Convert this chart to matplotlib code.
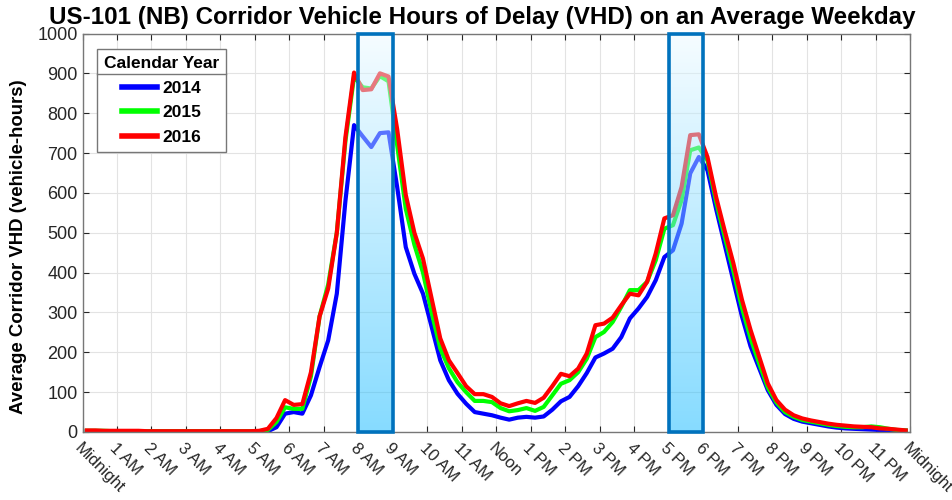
import numpy as np
import matplotlib
matplotlib.use("Agg")
import matplotlib.pyplot as plt
from matplotlib.patches import Rectangle
from matplotlib.lines import Line2D

# 15-minute bins, values plotted at bin midpoints (hours after midnight)
hours = np.arange(96) * 0.25 + 0.125

vhd_2014 = [2, 2, 2, 2, 1, 1, 1, 1, 1, 1, 1, 1, 1, 1, 1, 1, 1, 1, 1, 1,
            1, 2, 12, 46, 50, 46, 92, 163, 230, 347, 580, 770,
            742, 715, 750, 752, 615, 464, 397, 347, 264, 180, 130, 96,
            71, 50, 46, 42, 36, 31, 36, 38, 36, 39, 56, 77,
            88, 115, 148, 187, 197, 209, 238, 285, 310, 339, 381, 439,
            456, 523, 649, 690, 657, 560, 470, 380, 290, 215, 160, 105,
            68, 45, 33, 26, 22, 18, 14, 11, 9, 8, 7, 6, 5, 4, 3, 3]
vhd_2015 = [3, 3, 3, 2, 2, 2, 2, 2, 2, 2, 2, 2, 2, 2, 2, 2, 2, 2, 2, 2,
            2, 5, 25, 62, 58, 58, 140, 290, 370, 500, 730, 892,
            865, 862, 893, 880, 720, 560, 470, 400, 300, 210, 160, 125,
            100, 78, 78, 75, 60, 52, 55, 60, 53, 63, 92, 121,
            130, 150, 184, 238, 251, 276, 314, 356, 356, 377, 431, 510,
            519, 582, 707, 714, 682, 578, 490, 405, 312, 235, 172, 112,
            74, 50, 38, 30, 26, 22, 18, 15, 13, 12, 12, 14, 12, 8, 5, 4]
vhd_2016 = [4, 4, 3, 3, 3, 3, 3, 2, 2, 2, 2, 2, 2, 2, 2, 2, 2, 2, 2, 2,
            3, 8, 35, 80, 68, 70, 150, 290, 360, 500, 740, 902,
            858, 860, 900, 892, 760, 595, 500, 435, 335, 235, 180, 148,
            115, 95, 95, 88, 72, 65, 72, 78, 73, 86, 115, 146,
            140, 159, 197, 268, 272, 287, 318, 347, 343, 377, 448, 536,
            544, 615, 745, 747, 690, 590, 505, 424, 332, 256, 189, 122,
            80, 56, 42, 34, 29, 25, 21, 18, 16, 14, 13, 12, 9, 8, 6, 4]

years = ["2014", "2015", "2016"]
series = [vhd_2014, vhd_2015, vhd_2016]
colors = ["#0000ff", "#00ff00", "#ff0000"]

tick_labels = (["Midnight"] + ["%d AM" % h for h in range(1, 12)] + ["Noon"]
               + ["%d PM" % h for h in range(1, 12)] + ["Midnight"])
peak_windows = [(8, 9), (17, 18)]

plt.rcParams["font.family"] = ["Liberation Sans", "DejaVu Sans"]

fig = plt.figure(figsize=(9.53, 5.0), dpi=100)
ax = fig.add_axes([0.0866, 0.136, 0.8683, 0.797])

lines = []
for yr, vals, c in zip(years, series, colors):
    ln, = ax.plot(hours, vals, color=c, lw=3.0, label=yr, zorder=2,
                  solid_joinstyle="round")
    lines.append(ln)

# shaded peak hours: pale at the top, light blue at the bottom, over the curves
grad = np.linspace(0, 1, 256)[:, None]
top_c = np.array([0.93, 0.98, 1.0])
bot_c = np.array([0.05, 0.72, 1.0])
rgba = np.zeros((256, 1, 4))
rgba[..., :3] = top_c + (bot_c - top_c) * grad[..., None]
rgba[..., 3] = 0.5
for x0, x1 in peak_windows:
    ax.imshow(rgba, extent=[x0, x1, 0, 1000], aspect="auto", origin="upper",
              zorder=3, interpolation="bilinear")
    ax.add_patch(Rectangle((x0, 0), x1 - x0, 1000, fill=False,
                           edgecolor="#0072bd", lw=2.6, zorder=4,
                           clip_on=False))

ax.set_xlim(0, 24)
ax.set_ylim(0, 1000)
ax.set_xticks(range(25))
ax.set_xticklabels(tick_labels, rotation=-45, ha="left", va="top",
                   rotation_mode="anchor")
ax.set_yticks(range(0, 1001, 100))
ax.tick_params(direction="in", top=True, right=True, labelsize=13,
               colors="#262626", length=4, width=0.8)
ax.tick_params(axis="x", pad=6, labelsize=12)
for sp in ax.spines.values():
    sp.set_color("#777777")
    sp.set_linewidth(1.0)
ax.grid(True, color="#e3e3e3", lw=0.8)
ax.set_axisbelow(True)

ax.set_title("US-101 (NB) Corridor Vehicle Hours of Delay (VHD) on an Average Weekday",
             fontsize=17.4, fontweight="bold", pad=7, x=0.483)
ax.set_ylabel("Average Corridor VHD (vehicle-hours)", fontsize=13.4,
              fontweight="bold")
ax.yaxis.set_label_coords(-0.067, 0.465)

leg = ax.legend(handles=lines, loc="upper left", bbox_to_anchor=(0.0175, 0.96),
                borderaxespad=0, title="Calendar Year", fancybox=False,
                framealpha=1, edgecolor="#777777", handlelength=2.0,
                handletextpad=0.3, labelspacing=0.52, borderpad=0.4,
                prop={"weight": "bold", "size": 12.5},
                title_fontproperties={"weight": "bold", "size": 12.5})
leg.get_frame().set_linewidth(1.0)
leg.set_zorder(5)
leg._legend_box.sep = 7
for h in leg.legend_handles:
    h.set_linewidth(4)

# separator line under the legend title
fig.canvas.draw()
frame_bb = leg.get_frame().get_window_extent()
title_bb = leg.get_title().get_window_extent()
y_sep = title_bb.y0 - 3
inv = fig.transFigure.inverted()
(fx0, fy), (fx1, _) = inv.transform([(frame_bb.x0, y_sep), (frame_bb.x1, y_sep)])
fig.add_artist(Line2D([fx0, fx1], [fy, fy], color="#777777", lw=1.0, zorder=6))

fig.savefig("out.png", dpi=100)
